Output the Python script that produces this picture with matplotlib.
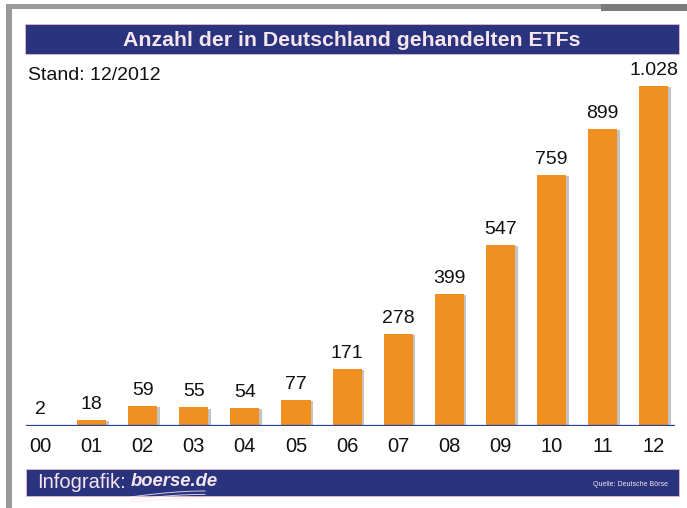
import matplotlib
matplotlib.use("Agg")
import matplotlib.pyplot as plt
from matplotlib.patches import Rectangle
import numpy as np

years = ["00", "01", "02", "03", "04", "05", "06", "07", "08", "09", "10", "11", "12"]
counts = [2, 18, 59, 55, 54, 77, 171, 278, 399, 547, 759, 899, 1028]
count_labels = ["2", "18", "59", "55", "54", "77", "171", "278", "399", "547", "759", "899", "1.028"]
title = "Anzahl der in Deutschland gehandelten ETFs"
subtitle = "Stand: 12/2012"
source = "Quelle: Deutsche Börse"

W, H = 687, 508
NAVY = "#2A337E"
ORANGE = "#EF9020"
TXT_LIGHT = "#F6E6EC"
FONT = "Liberation Sans"

fig = plt.figure(figsize=(W / 100, H / 100), dpi=100)
fig.patch.set_facecolor("white")

# decoration axes in pixel coords
deco = fig.add_axes([0, 0, 1, 1])
deco.set_xlim(0, W)
deco.set_ylim(H, 0)
deco.axis("off")

# gray frame
deco.add_patch(Rectangle((6, 4), 595, 5, facecolor="#9A9A9A", edgecolor="none"))
deco.add_patch(Rectangle((601, 4), 86, 7, facecolor="#7A7A7A", edgecolor="none"))
deco.add_patch(Rectangle((6, 4), 6, H - 4, facecolor="#9A9A9A", edgecolor="none"))

# title bar
deco.add_patch(Rectangle((25, 24), 654, 30, facecolor=NAVY, edgecolor="#E8B8C8", linewidth=0.6))
deco.text(352, 40, title, ha="center", va="center", color=TXT_LIGHT,
          fontsize=15.3, fontweight="bold", family=FONT)

deco.text(28, 76, subtitle, ha="left", va="center", color="#111111",
          fontsize=14, family=FONT)

# footer bar
deco.add_patch(Rectangle((26, 469), 653, 27, facecolor=NAVY, edgecolor="#E8B8C8", linewidth=0.6))
deco.text(37, 483, "Infografik:", ha="left", va="center", color=TXT_LIGHT,
          fontsize=14.5, family=FONT)
deco.text(131, 482, "boerse.de", ha="left", va="center", color=TXT_LIGHT,
          fontsize=13.3, fontweight="bold", fontstyle="italic", family=FONT)
# swoosh under logo
for k, off in enumerate([0, 2.5, 5]):
    xs = np.linspace(130, 205, 40)
    ys = 497 + off - 6 * np.sin((xs - 130) / 75 * np.pi / 2) * (1 - 0.15 * k)
    deco.plot(xs, ys, color=TXT_LIGHT, linewidth=0.7, alpha=0.85)
deco.text(668, 484, source, ha="right", va="center", color=TXT_LIGHT,
          fontsize=5, family=FONT)

# bar axes
left_px, right_px = 26, 675
bottom_px, top_px = H - 425.5, H - 60
ax = fig.add_axes([left_px / W, bottom_px / H, (right_px - left_px) / W, (top_px - bottom_px) / H])
ax.set_facecolor("none")
step = 51.1
c0 = 40.5
ax.set_xlim(-(c0 - left_px) / step, (right_px - c0) / step)
scale = 339.5 / 1028
ax.set_ylim(0, (top_px - bottom_px) / scale)
for s in ax.spines.values():
    s.set_visible(False)
ax.set_xticks([])
ax.set_yticks([])

x = np.arange(len(years))
bw = 0.57
# shadow
ax.bar(x + 0.05, counts, width=bw, bottom=-4, color="#555555", alpha=0.35, zorder=1)
ax.bar(x, counts, width=bw, color=ORANGE, zorder=2)
ax.axhline(0, color="#1F3F9F", linewidth=1.6, zorder=3)

for xi, v, lab in zip(x, counts, count_labels):
    ax.annotate(lab, (xi, v), xytext=(0, 7), textcoords="offset pixels",
                ha="center", va="bottom", fontsize=14, color="#111111", family=FONT)
    ax.annotate(years[xi], (xi, 0), xytext=(0, -21), textcoords="offset pixels",
                ha="center", va="center", fontsize=14.5, color="#111111", family=FONT,
                annotation_clip=False)

fig.savefig("out.png", dpi=100, facecolor="white")
